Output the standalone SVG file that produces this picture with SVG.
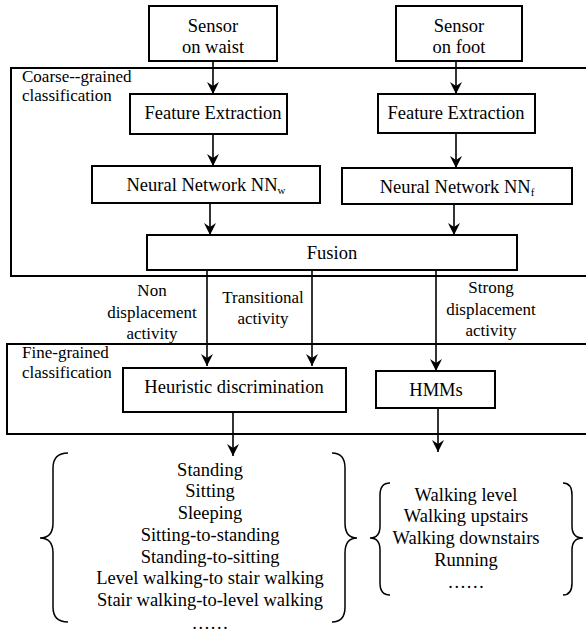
<svg xmlns="http://www.w3.org/2000/svg" width="586" height="633" viewBox="0 0 586 633">
<defs>
<marker id="arr" markerUnits="userSpaceOnUse" markerWidth="14" markerHeight="14" viewBox="-13 -7 14 14" refX="0" refY="0" orient="auto">
<path d="M0,0 L-12,-6 L-8,0 L-12,6 Z" fill="#000"/>
</marker>
<style>
.box{fill:#fff;stroke:#000;stroke-width:2}
.frame{fill:none;stroke:#000;stroke-width:2}
.t{font-family:"Liberation Serif","Times New Roman",serif;font-size:18.5px;fill:#000;text-anchor:middle}
.l{font-family:"Liberation Serif","Times New Roman",serif;font-size:17px;fill:#000;text-anchor:middle}
.g{font-family:"Liberation Serif","Times New Roman",serif;font-size:17px;fill:#000}
.c{fill:none;stroke:#000;stroke-width:1.6}
.br{fill:none;stroke:#000;stroke-width:1.5}
</style>
</defs>
<rect fill="#fff" width="586" height="633"/>
<g id="coarse-frame">
<rect class="frame" x="11" y="68" width="590" height="208"/>
<text class="g" x="22" y="82">Coarse--grained</text>
<text class="g" x="22" y="101">classification</text>
</g>
<g id="fine-frame">
<rect class="frame" x="7" y="344" width="594" height="90"/>
<text class="g" x="22" y="358">Fine-grained</text>
<text class="g" x="22" y="378">classification</text>
</g>
<g id="connectors">
<line class="c" x1="213" y1="61" x2="213" y2="94" marker-end="url(#arr)"/>
<line class="c" x1="456" y1="61" x2="456" y2="94" marker-end="url(#arr)"/>
<line class="c" x1="213" y1="134" x2="213" y2="166" marker-end="url(#arr)"/>
<line class="c" x1="456" y1="133" x2="456" y2="168" marker-end="url(#arr)"/>
<line class="c" x1="210" y1="203" x2="210" y2="235" marker-end="url(#arr)"/>
<line class="c" x1="454" y1="204" x2="454" y2="235" marker-end="url(#arr)"/>
<line class="c" x1="207" y1="270" x2="207" y2="366" marker-end="url(#arr)"/>
<line class="c" x1="312" y1="270" x2="312" y2="366" marker-end="url(#arr)"/>
<line class="c" x1="436" y1="270" x2="436" y2="371" marker-end="url(#arr)"/>
<line class="c" x1="233" y1="412" x2="233" y2="456" marker-end="url(#arr)"/>
<line class="c" x1="438" y1="408" x2="438" y2="452" marker-end="url(#arr)"/>
<text class="l" x="152" y="296">Non</text>
<text class="l" x="152" y="318">displacement</text>
<text class="l" x="152" y="339">activity</text>
<text class="l" x="263" y="303">Transitional</text>
<text class="l" x="263" y="324">activity</text>
<text class="l" x="491" y="293">Strong</text>
<text class="l" x="491" y="315">displacement</text>
<text class="l" x="491" y="336">activity</text>
</g>
<g id="sensor-waist">
<rect class="box" x="149" y="6" width="128" height="55"/>
<text class="t" x="213" y="32">Sensor</text>
<text class="t" x="213" y="53">on waist</text>
</g>
<g id="sensor-foot">
<rect class="box" x="396" y="6" width="126" height="55"/>
<text class="t" x="459" y="32">Sensor</text>
<text class="t" x="459" y="53">on foot</text>
</g>
<g id="fe-waist">
<rect class="box" x="130" y="94" width="157" height="40"/>
<text class="t" x="213" y="119">Feature Extraction</text>
</g>
<g id="fe-foot">
<rect class="box" x="378" y="94" width="157" height="39"/>
<text class="t" x="456" y="119">Feature Extraction</text>
</g>
<g id="nn-waist">
<rect class="box" x="92" y="166" width="228" height="37"/>
<text class="t" x="206" y="191">Neural Network NN<tspan font-size="11" dy="3">w</tspan></text>
</g>
<g id="nn-foot">
<rect class="box" x="342" y="168" width="230" height="36"/>
<text class="t" x="457" y="193">Neural Network NN<tspan font-size="11" dy="3">f</tspan></text>
</g>
<g id="fusion">
<rect class="box" x="147" y="235" width="370" height="35"/>
<text class="t" x="332" y="259">Fusion</text>
</g>
<g id="heuristic">
<rect class="box" x="123" y="368" width="223" height="44"/>
<text class="t" x="234" y="393">Heuristic discrimination</text>
</g>
<g id="hmms">
<rect class="box" x="376" y="371" width="119" height="37"/>
<text class="t" x="436" y="396">HMMs</text>
</g>
<g id="list-left">
<path class="br" d="M68,453 Q53,453 53,468 L53,523 Q53,538 40,538 Q53,538 53,553 L53,607 Q53,622 68,622"/>
<path class="br" d="M332,453 Q345,453 345,468 L345,523 Q345,538 357,538 Q345,538 345,553 L345,607 Q345,622 332,622"/>
<text class="t" x="210" y="476">Standing</text>
<text class="t" x="210" y="497">Sitting</text>
<text class="t" x="210" y="519">Sleeping</text>
<text class="t" x="210" y="541">Sitting-to-standing</text>
<text class="t" x="210" y="563">Standing-to-sitting</text>
<text class="t" x="210" y="584">Level walking-to stair walking</text>
<text class="t" x="210" y="606">Stair walking-to-level walking</text>
<text class="t" x="210" y="629">……</text>
</g>
<g id="list-right">
<path class="br" d="M390,483 Q380,483 380,495 L380,526 Q380,538 370,538 Q380,538 380,550 L380,583 Q380,595 390,595"/>
<path class="br" d="M563,483 Q572,483 572,495 L572,526 Q572,538 583,538 Q572,538 572,550 L572,583 Q572,595 563,595"/>
<text class="t" x="466" y="501">Walking level</text>
<text class="t" x="466" y="522">Walking upstairs</text>
<text class="t" x="466" y="544">Walking downstairs</text>
<text class="t" x="466" y="566">Running</text>
<text class="t" x="466" y="588">……</text>
</g>
</svg>
